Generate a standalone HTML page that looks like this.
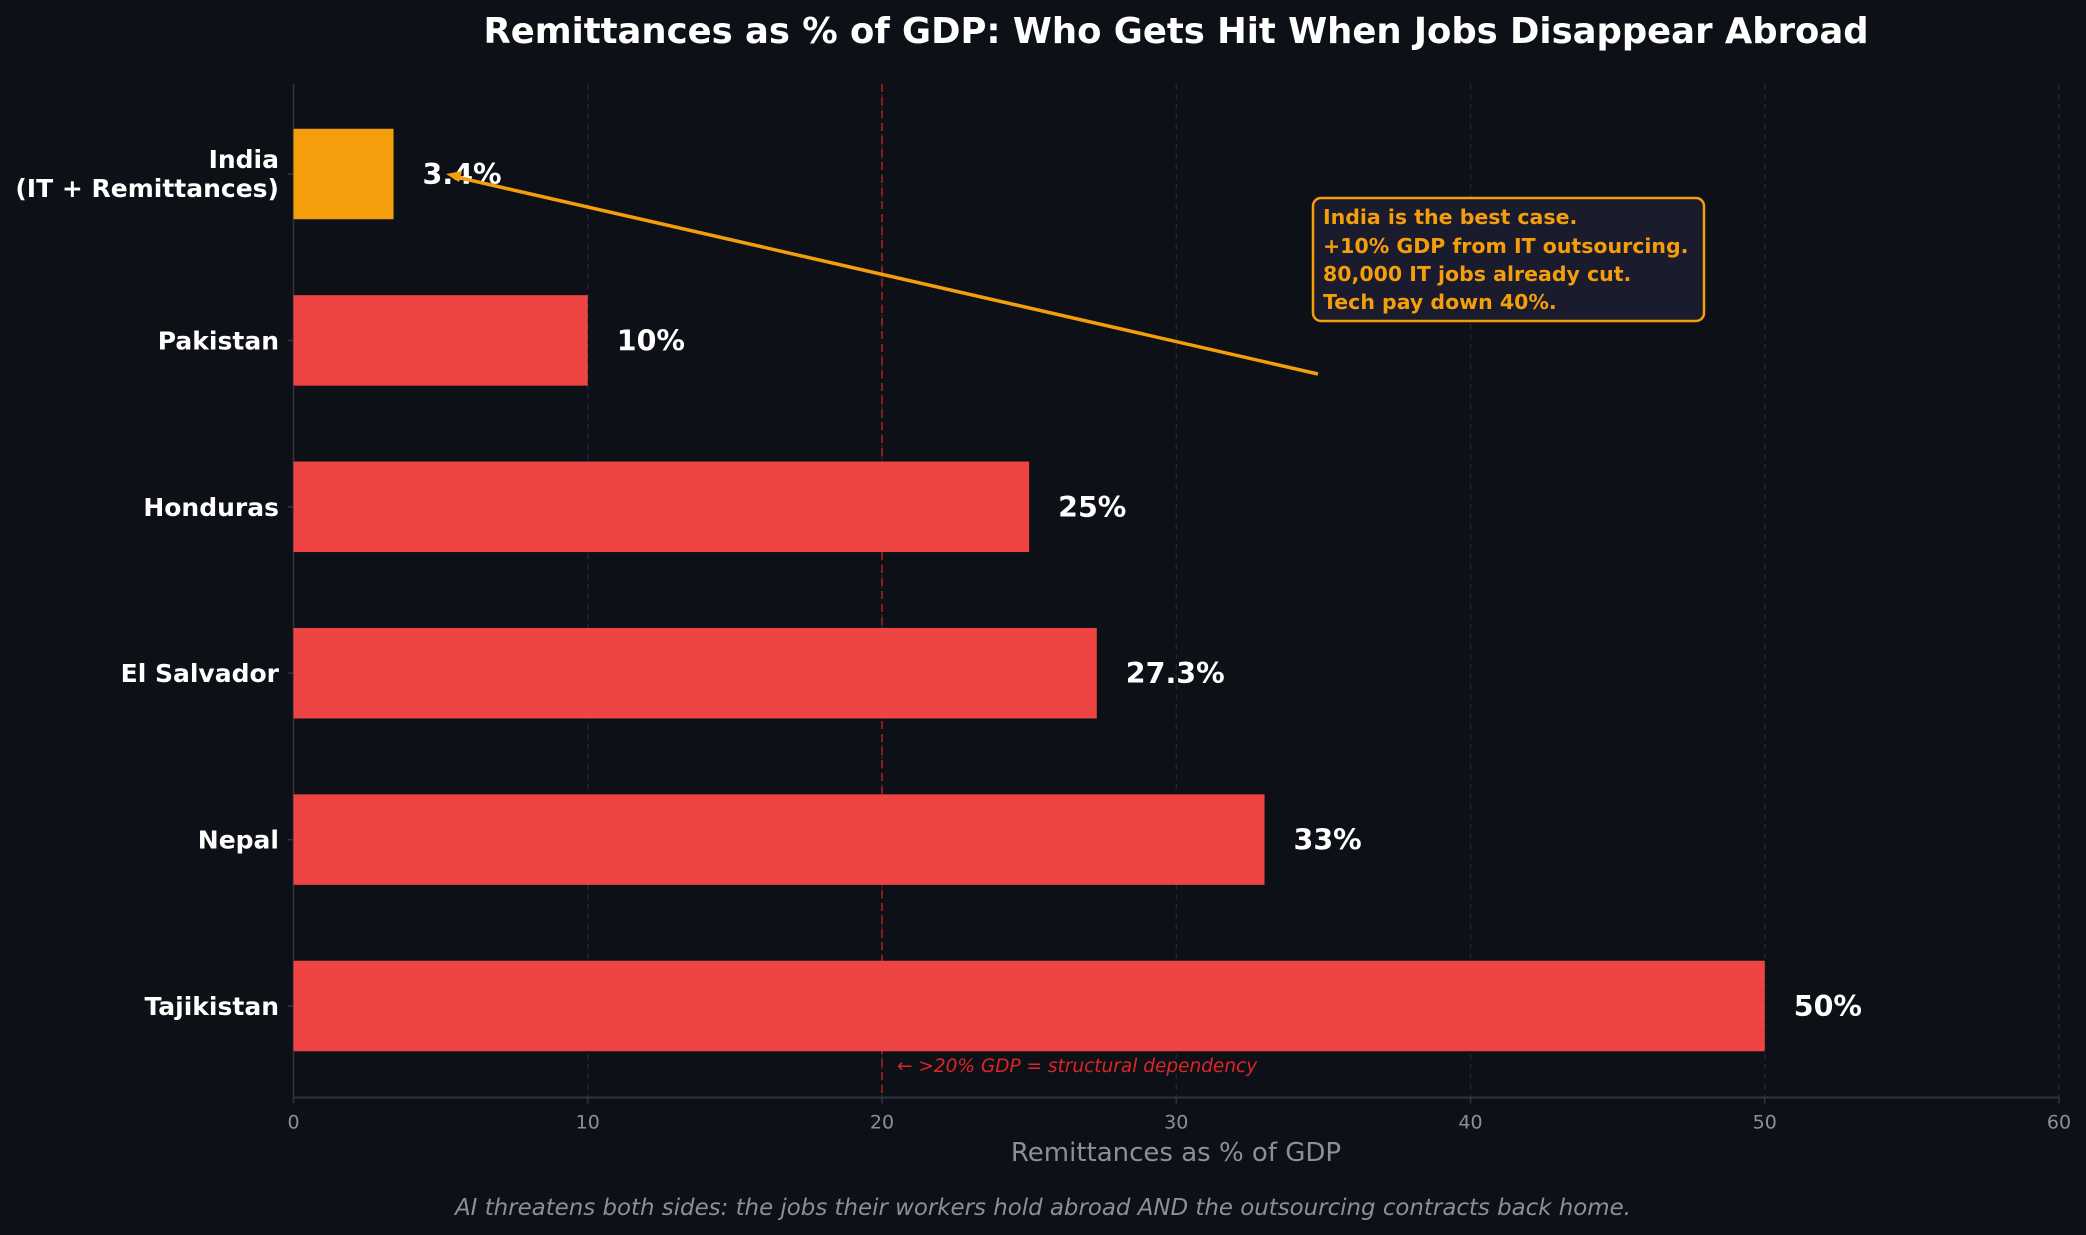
<!DOCTYPE html>
<html><head><meta charset="utf-8"><style>
html,body{margin:0;padding:0;background:#0d1017;}
svg{display:block;font-family:"DejaVu Sans","Liberation Sans",sans-serif;}
</style></head><body>
<svg id="chart" width="2086" height="1235" viewBox="0 0 2086 1235">
<rect width="2086" height="1235" fill="#0d1017"/>
<text x="1176" y="43" text-anchor="middle" fill="#ffffff" font-size="35.4" font-weight="bold">Remittances as % of GDP: Who Gets Hit When Jobs Disappear Abroad</text>
<g id="grid"></g>
<g id="bars"></g>
<g id="ylabels"></g>
<g id="xaxis"></g>
<text x="1176" y="1161" text-anchor="middle" fill="#8b8f96" font-size="26">Remittances as % of GDP</text>
<text x="1043" y="1215" text-anchor="middle" fill="#8b8f96" font-size="22.9" font-style="italic">AI threatens both sides: the jobs their workers hold abroad AND the outsourcing contracts back home.</text>
<g>
<line x1="1318" y1="374" x2="452" y2="176" stroke="#f59e0b" stroke-width="3.5"/>
<polygon points="446,174 462,171 459,182" fill="#f59e0b"/>
<rect x="1313" y="198" width="391" height="123" rx="8" fill="#1b1b2e" stroke="#f59e0b" stroke-width="2.5"/>
<g fill="#f59e0b" font-size="20.5" font-weight="bold">
<text x="1323" y="224">India is the best case.</text>
<text x="1323" y="253">+10% GDP from IT outsourcing.</text>
<text x="1323" y="281">80,000 IT jobs already cut.</text>
<text x="1323" y="309">Tech pay down 40%.</text>
</g>
</g>
</svg>
<script>
const categories=["India\n(IT + Remittances)","Pakistan","Honduras","El Salvador","Nepal","Tajikistan"];
const values=[3.4,10,25,27.3,33,50];
const valueLabels=["3.4%","10%","25%","27.3%","33%","50%"];
const barColors=["#f59e0b","#ef4444","#ef4444","#ef4444","#ef4444","#ef4444"];
const xTicks=[0,10,20,30,40,50,60];
const threshold=20;
const NS="http://www.w3.org/2000/svg";
const X0=293.5,X1=2059,XMAX=60,YTOP=84,YBOT=1097.5;
const Y0=174,STEP=166.4,BH=90.5;
function xs(v){return X0+(v/XMAX)*(X1-X0);}
function yc(i){return Y0+i*STEP;}
function mk(t,a,p){const e=document.createElementNS(NS,t);for(const k in a)e.setAttribute(k,a[k]);p.appendChild(e);return e;}
const grid=document.getElementById('grid'),bars=document.getElementById('bars'),yl=document.getElementById('ylabels'),xa=document.getElementById('xaxis');
xTicks.forEach(t=>{if(t===0)return;const l=mk('line',{x1:xs(t),x2:xs(t),y1:YTOP,y2:YBOT,stroke:'#262a33','stroke-width':1.3,'stroke-dasharray':'5,5'},grid);

});
const ax=mk('line',{x1:X0,x2:X0,y1:YTOP,y2:YBOT,stroke:'#30343c','stroke-width':1.5},grid);


const th=mk('line',{x1:xs(threshold),x2:xs(threshold),y1:YTOP,y2:YBOT,stroke:'#8b1c1c','stroke-width':2,'stroke-dasharray':'8,5'},grid);


const tt=mk('text',{x:xs(threshold)+15,y:1072,fill:'#dc2626','font-size':18.5,'font-style':'italic'},grid);
tt.textContent='← >20% GDP = structural dependency';


values.forEach((v,i)=>{
const r=mk('rect',{x:X0,y:yc(i)-BH/2,width:xs(v)-X0,height:BH,fill:barColors[i]},bars);


const t=mk('text',{x:xs(v)+29,y:yc(i)+10,fill:'#ffffff','font-size':28.5,'font-weight':'bold'},bars);
t.textContent=valueLabels[i];


const lines=categories[i].split('\n');
const lab=mk('text',{x:279,'text-anchor':'end',fill:'#ffffff','font-size':25,'font-weight':'bold'},yl);


const off=lines.length>1?-6:9;
lines.forEach((s,j)=>{const ts=mk('tspan',{x:279,y:yc(i)+off+j*29},lab);ts.textContent=s;});
const tk=mk('line',{x1:X0-6,x2:X0,y1:yc(i),y2:yc(i),stroke:'#30343c','stroke-width':1.5},yl);


});
const xl=mk('line',{x1:X0,x2:X1,y1:YBOT,y2:YBOT,stroke:'#30343c','stroke-width':2},xa);


xTicks.forEach(t=>{
const k=mk('line',{x1:xs(t),x2:xs(t),y1:YBOT,y2:YBOT+6,stroke:'#30343c','stroke-width':1.5},xa);


const l=mk('text',{x:xs(t),y:YBOT+31,'text-anchor':'middle',fill:'#8b8f96','font-size':19},xa);
l.textContent=t;


});
</script>
</body></html>
